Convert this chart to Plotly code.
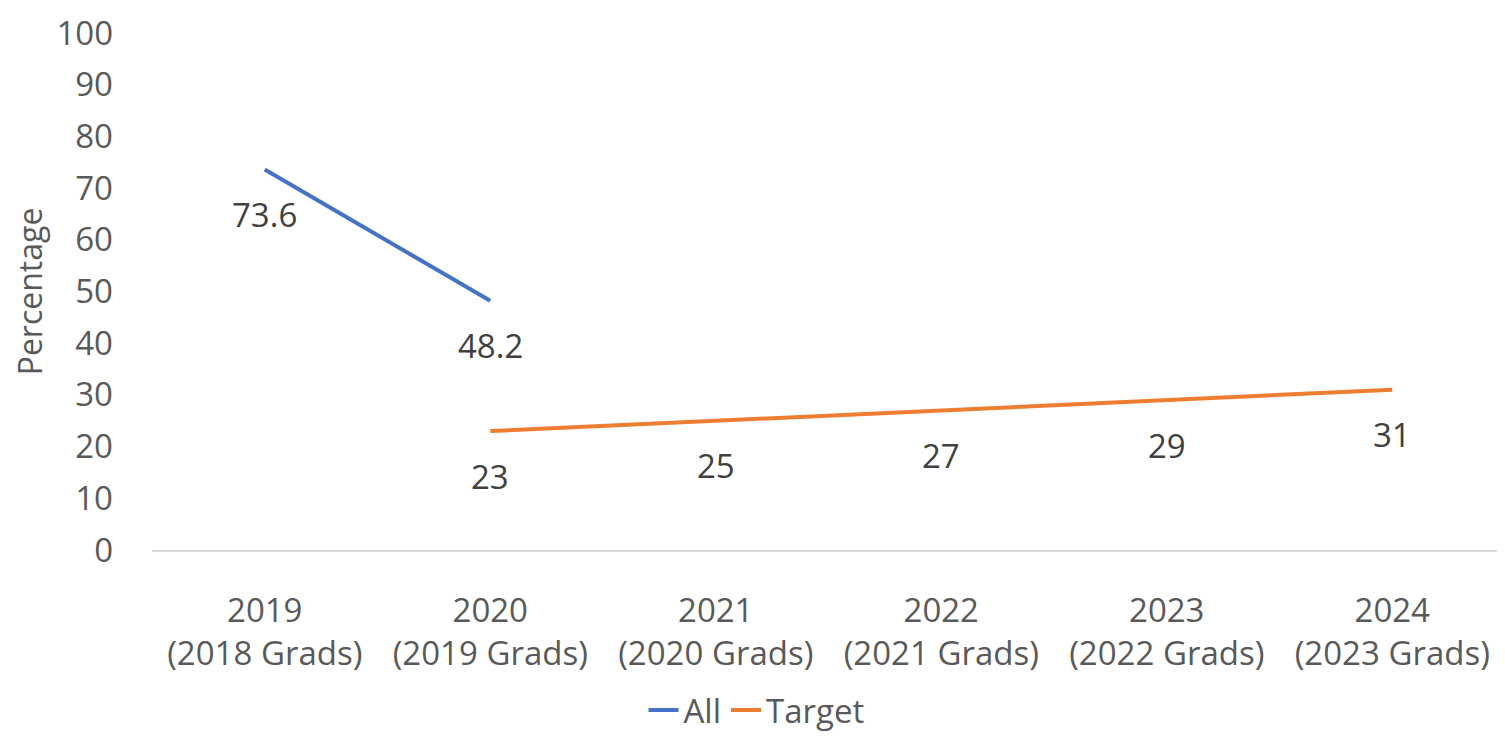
import plotly.graph_objects as go

categories = ["2019<br>(2018 Grads)", "2020<br>(2019 Grads)", "2021<br>(2020 Grads)",
              "2022<br>(2021 Grads)", "2023<br>(2022 Grads)", "2024<br>(2023 Grads)"]
all_x = categories[:2]
all_values = [73.6, 48.2]
target_x = categories[1:]
target_values = [23, 25, 27, 29, 31]
y_ticks = list(range(0, 101, 10))

FONT = "Open Sans"
fig = go.Figure()
fig.add_trace(go.Scatter(x=all_x, y=all_values, mode="lines", name="All",
                         line=dict(color="#4472C4", width=4)))
fig.add_trace(go.Scatter(x=target_x, y=target_values, mode="lines", name="Target",
                         line=dict(color="#ED7D31", width=4)))

for xs, ys in ((all_x, all_values), (target_x, target_values)):
    for x, y in zip(xs, ys):
        fig.add_annotation(x=x, y=y, text=f"{y:g}", showarrow=False, yshift=-45,
                           font=dict(family=FONT, size=33, color="#404040"))

fig.update_layout(
    width=1497, height=730,
    margin=dict(l=144, r=0, t=25, b=188, autoexpand=False),
    paper_bgcolor="white", plot_bgcolor="white",
    font=dict(family=FONT, size=33, color="#595959"),
    showlegend=True,
    legend=dict(orientation="h", xref="container", yref="container", x=0.5, y=0.0,
                xanchor="center", yanchor="bottom", font=dict(size=33, color="#595959"),
                itemwidth=30, tracegroupgap=0),
    xaxis=dict(type="category", categoryorder="array", categoryarray=categories,
               range=[-0.5, 5.5], showgrid=False, showline=True, linecolor="#D9D9D9",
               linewidth=2, ticks="", ticklabelstandoff=30, automargin=False,
               ticklabeloverflow="allow",
               tickfont=dict(size=33, color="#595959")),
    yaxis=dict(range=[0, 100], tickvals=y_ticks, showgrid=False, zeroline=False, showline=False,
               ticks="", ticklabelstandoff=38, automargin=False, ticklabeloverflow="allow",
               tickfont=dict(size=33, color="#595959"),
               title=dict(text="Percentage", standoff=8, font=dict(size=32, color="#595959"))),
)
fig.write_html("out.html")
